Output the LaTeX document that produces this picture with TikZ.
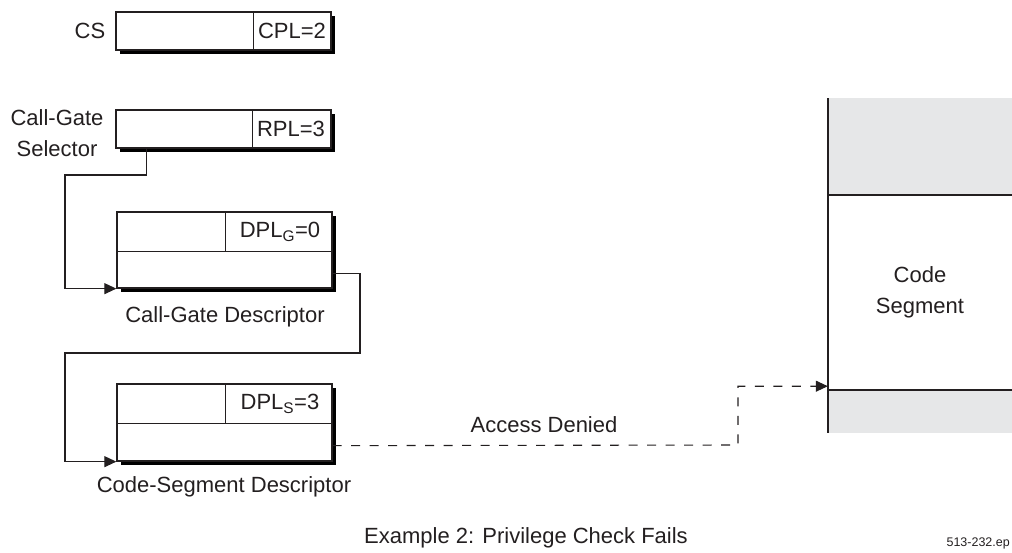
\documentclass[tikz,border=0pt]{standalone}
\usepackage{fontspec}
\setmainfont{Liberation Sans}
\usepackage{tikz}
\usetikzlibrary{arrows.meta,shadows}
\definecolor{sd-ink}{HTML}{231F20}
\definecolor{sd-shade}{HTML}{E6E7E8}

\tikzset{
    regbox/.style={draw=sd-ink, fill=white, line width=1.3pt, inner sep=0pt,
        minimum width=215pt,
        general shadow={fill=black, shadow xshift=4pt, shadow yshift=-4pt}},
    txt/.style={text=sd-ink, font=\fontsize{22}{31}\selectfont, inner sep=0pt},
    link/.style={sd-ink, line width=1.1pt, -{Triangle[length=12pt,width=11pt]}},
    denied/.style={link, dash pattern=on 9pt off 9.5pt}
}

\begin{document}
\begin{tikzpicture}[x=1pt,y=-1pt]
    \useasboundingbox (0,0) rectangle (1012,552);

    % selectors
    \node[regbox, minimum height=38pt] (cs) at (223.5,31) {};
    \draw[sd-ink, line width=0.9pt] (253,12) -- (253,50);
    \node[txt] (cpl) at (292,31) {CPL=2};
    \node[txt] (cslabel) at (90,31) {CS};

    \node[regbox, minimum height=38pt] (sel) at (223.5,129) {};
    \draw[sd-ink, line width=0.9pt] (252,110) -- (252,148);
    \node[txt] (rpl) at (291,129) {RPL=3};
    \node[txt, align=center] (sellabel) at (57,133) {Call-Gate\\Selector};

    % descriptors
    \node[regbox, minimum height=76pt] (gate) at (224.5,250) {};
    \draw[sd-ink, line width=0.9pt] (117,251) -- (332,251);
    \draw[sd-ink, line width=0.9pt] (225,212) -- (225,251);
    \node[txt] (dplg) at (280,232) {DPL\textsubscript{G}=0};
    \node[txt] (gatelabel) at (225,317) {Call-Gate Descriptor};

    \node[regbox, minimum height=77pt] (code) at (224.5,422.5) {};
    \draw[sd-ink, line width=0.9pt] (117,423) -- (332,423);
    \draw[sd-ink, line width=0.9pt] (225,384) -- (225,423);
    \node[txt] (dpls) at (280,404) {DPL\textsubscript{S}=3};
    \node[txt] (codelabel) at (224,487) {Code-Segment Descriptor};

    % code segment
    \fill[sd-shade] (828,98) rectangle (1012,195);
    \fill[sd-shade] (828,390) rectangle (1012,433);
    \node[txt, align=center, minimum width=184pt, minimum height=195pt] (seg) at (920,292.5) {Code\\Segment};
    \draw[sd-ink, line width=1.6pt] (828,98) -- (828,433);
    \draw[sd-ink, line width=1.6pt] (seg.north west) -- (seg.north east);
    \draw[sd-ink, line width=1.6pt] (seg.south west) -- (seg.south east);

    % connectors
    \coordinate (turnA) at (65,175);
    \coordinate (turnB) at (360,353);
    \coordinate (turnC) at (65,353);
    \coordinate (turnD) at (738,445);
    \draw[link] ([xshift=31pt]sel.south west) |- (turnA) |- (gate.south west);
    \draw[link] ([yshift=15pt]gate.south east) -| (turnB) -- (turnC) |- (code.south west);
    \draw[denied] ([yshift=16pt]code.south east) -- (turnD) |- ([yshift=4pt]seg.south west);

    \node[txt] (access) at (544,425) {Access Denied};
    \node[txt] (caption) at (526,538) {Example 2: Privilege Check Fails};
    \node[txt, font=\fontsize{12.5}{15}\selectfont, anchor=east] (fileno) at (1010,543) {513-232.ep};
\end{tikzpicture}
\end{document}
